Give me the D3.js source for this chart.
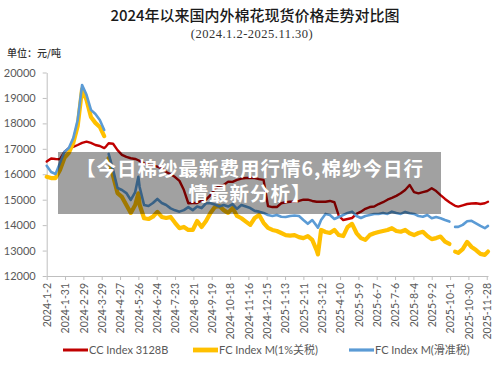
<!DOCTYPE html>
<html>
<head>
<meta charset="utf-8">
<script src="https://cdn.jsdelivr.net/npm/d3@7"></script>
<style>
  body { margin: 0; background: #fff; }
  svg { display: block; }
</style>
</head>
<body>
<div id="chart"></div>
<script>
// sample dates (roughly weekly), values in 元/吨; null = no quote
var dates = ["2024-01-02","2024-01-09","2024-01-16","2024-01-23","2024-01-30","2024-02-06","2024-02-13","2024-02-20","2024-02-27","2024-03-05",
  "2024-03-12","2024-03-19","2024-03-26","2024-04-02","2024-04-05","2024-04-09","2024-04-16","2024-04-23","2024-04-30","2024-05-07",
  "2024-05-14","2024-05-21","2024-05-26","2024-05-28","2024-06-04","2024-06-11","2024-06-18","2024-06-25","2024-07-02","2024-07-09",
  "2024-07-16","2024-07-23","2024-07-30","2024-08-06","2024-08-13","2024-08-20","2024-08-27","2024-09-03","2024-09-10","2024-09-17",
  "2024-09-24","2024-10-01","2024-10-08","2024-10-15","2024-10-22","2024-10-29","2024-11-05","2024-11-12","2024-11-19","2024-11-26",
  "2024-12-03","2024-12-10","2024-12-17","2024-12-24","2024-12-31","2025-01-07","2025-01-14","2025-01-21","2025-01-28","2025-02-04",
  "2025-02-11","2025-02-18","2025-02-25","2025-03-04","2025-03-06","2025-03-11","2025-03-18","2025-03-25","2025-04-01","2025-04-08",
  "2025-04-15","2025-04-22","2025-04-29","2025-05-06","2025-05-13","2025-05-20","2025-05-27","2025-06-03","2025-06-10","2025-06-17",
  "2025-06-24","2025-07-01","2025-07-08","2025-07-15","2025-07-22","2025-07-29","2025-08-05","2025-08-12","2025-08-19","2025-08-26",
  "2025-09-02","2025-09-09","2025-09-16","2025-09-23","2025-09-30","2025-10-05","2025-10-09","2025-10-14","2025-10-21","2025-10-28",
  "2025-11-04","2025-11-11","2025-11-18","2025-11-25","2025-11-30"];

var ccIndex = [16500,16620,16600,16590,16880,17030,17080,17150,17230,17280,
  17230,17150,17110,17030,17100,17220,17200,16950,16760,16680,
  16630,16600,16550,16520,16430,16380,16340,16300,16230,16090,
  16000,15890,15740,15380,14860,14870,14870,14970,15000,15180,
  15420,15540,15580,15710,15700,15780,15830,15850,15850,15850,
  15810,15780,14750,14710,14710,14860,14900,14920,14920,14950,
  15000,15000,14950,14920,14920,14920,14920,14950,14900,14360,
  14200,14240,14280,14440,14530,14640,14710,14730,14830,14900,
  15000,15070,15150,15250,15380,15580,15300,15250,15300,15340,
  15450,15340,15180,15030,14900,14820,14760,14730,14780,14830,
  14850,14860,14830,14860,14920];

var fcTariff = [15900,15850,15850,16170,16640,16840,17230,17900,19350,18920,
  18250,18020,17860,17500,null,16640,15930,15260,15110,14790,
  14480,14790,15250,14800,14270,14240,14330,14520,14320,14280,
  14320,14090,13880,13930,13810,13810,14160,13930,14160,14480,
  14710,14750,14590,14480,14670,14360,14270,14140,14010,14280,
  14400,14090,13890,13810,13770,13690,13610,13590,13610,13530,
  13490,13570,13420,13010,12850,13810,13730,13690,13810,13610,
  13570,13930,14050,13690,13490,13420,13610,13680,13730,13770,
  13810,13880,13770,13740,13810,13680,13610,13690,13740,13570,
  13450,13490,13550,13350,13260,null,12960,12910,13060,13340,
  13140,13020,12870,12830,12960];

var fcSlide = [16330,16090,16010,16440,16880,17030,17420,18130,19510,19120,
  18530,18370,18130,17740,null,16800,16170,15460,15380,15260,
  14990,15300,15900,15500,14790,14750,14870,15030,14870,14790,
  14660,14580,14530,14590,14710,14590,14730,14670,14860,14860,
  14810,14730,14790,14730,14830,14640,14790,14730,14670,14560,
  14530,14480,14400,14360,14400,14330,14320,14360,14380,14360,
  14200,14050,14200,13970,13900,14200,14440,14400,14240,14320,
  14400,14480,14530,14360,14280,14360,14400,14440,14440,14480,
  14440,14530,14480,14440,14520,14470,14440,14360,14330,14400,
  14270,14320,14270,14200,14140,null,13930,13930,14010,14150,
  14170,14070,13970,13880,13970];

var xTicks = ["2024-01-02","2024-01-31","2024-02-29","2024-03-29","2024-04-27","2024-05-26","2024-06-24","2024-07-23","2024-08-21",
  "2024-09-19","2024-10-18","2024-11-16","2024-12-15","2025-01-13","2025-02-11","2025-03-12","2025-04-10","2025-05-09",
  "2025-06-07","2025-07-06","2025-08-04","2025-09-02","2025-10-01","2025-10-30","2025-11-28"];
var yTicks = [12000,13000,14000,15000,16000,17000,18000,19000,20000];

var seriesNames = ["CC Index 3128B", "FC Index M(1%关税)", "FC Index M(滑准税)"];
var seriesColors = ["#c00000", "#ffc000", "#5b9bd5"];
var seriesWidths = [2.4, 4.2, 2.6];

var W = 500, H = 367;
var parse = d3.timeParse("%Y-%m-%d");
var fmt = d3.timeFormat("%Y-%-m-%-d");
var axisFont = "Lato, 'Noto Sans', 'Noto Sans CJK SC', sans-serif";

var svg = d3.select("#chart").append("svg").attr("width", W).attr("height", H);
svg.append("rect").attr("width", W).attr("height", H).attr("fill", "#fff");

var x = d3.scaleTime().domain([parse("2024-01-02"), parse("2025-11-30")]).range([46.7, 488]);
var y = d3.scaleLinear().domain([12000, 20000]).range([276, 72.5]);

// titles
svg.append("text").attr("x", 255).attr("y", 21).attr("text-anchor", "middle")
  .attr("font-family", "'Noto Sans CJK SC', sans-serif").attr("font-size", 15).attr("font-weight", 500)
  .attr("fill", "#1a1a1a").text("2024年以来国内外棉花现货价格走势对比图");
svg.append("text").attr("x", 252).attr("y", 37.5).attr("text-anchor", "middle")
  .attr("font-family", "'Liberation Serif', serif").attr("font-size", 12.5).attr("letter-spacing", 0.5)
  .attr("fill", "#333").text("(2024.1.2-2025.11.30)");
svg.append("text").attr("x", 7).attr("y", 56.5)
  .attr("font-family", "'Noto Sans CJK SC', sans-serif").attr("font-size", 10).attr("font-weight", 500)
  .attr("fill", "#333").text("单位：元/吨");

// axes
var yAxis = svg.append("g").attr("transform", "translate(46.7,0)")
  .call(d3.axisLeft(y).tickValues(yTicks).tickSize(4).tickSizeOuter(0).tickPadding(7).tickFormat(d3.format("d")));
var xAxis = svg.append("g").attr("transform", "translate(0,276)")
  .call(d3.axisBottom(x).tickValues(xTicks.map(parse)).tickSize(4).tickSizeOuter(0).tickFormat(fmt));

[yAxis, xAxis].forEach(function(g){
  g.select(".domain").attr("stroke", "#bfbfbf").attr("stroke-width", 1);
  g.selectAll(".tick line").attr("stroke", "#bfbfbf");
  g.selectAll("text").attr("font-family", axisFont).attr("fill", "#595959");
});
yAxis.selectAll("text").attr("font-size", 11);
xAxis.selectAll("text").attr("font-size", 10.5)
  .attr("transform", "rotate(-90)")
  .attr("text-anchor", "end")
  .attr("x", -7).attr("y", 0).attr("dy", "0.35em");

// lines
var pts = dates.map(parse);
var allSeries = [ccIndex, fcTariff, fcSlide];
var line = d3.line()
  .defined(function(d){ return d[1] != null; })
  .x(function(d){ return x(d[0]); })
  .y(function(d){ return y(d[1]); })
  .curve(d3.curveLinear);

allSeries.forEach(function(vals, i){
  svg.append("path")
    .datum(pts.map(function(p, j){ return [p, vals[j]]; }))
    .attr("fill", "none")
    .attr("stroke", seriesColors[i])
    .attr("stroke-width", seriesWidths[i])
    .attr("stroke-linejoin", "round")
    .attr("stroke-linecap", "round")
    .attr("d", line);
});

// legend
var legX = [63, 193, 349];
var leg = svg.selectAll(".leg").data(seriesNames).enter().append("g")
  .attr("class", "leg")
  .attr("transform", function(d, i){ return "translate(" + legX[i] + ",350)"; });
leg.append("line").attr("x1", 0).attr("x2", 25).attr("y1", 0).attr("y2", 0)
  .attr("stroke", function(d, i){ return seriesColors[i]; })
  .attr("stroke-width", function(d, i){ return seriesWidths[i] + 0.6; });
leg.append("text").attr("x", 26).attr("y", 0).attr("dy", "0.35em")
  .attr("font-family", axisFont).attr("font-size", 11).attr("fill", "#595959")
  .text(function(d){ return d; });

// watermark banner over the chart (one text, two lines)
svg.append("rect").attr("x", 58).attr("y", 152).attr("width", 383).attr("height", 62)
  .attr("fill", "#000").attr("fill-opacity", 0.37);
var banner = ["【今日棉纱最新费用行情6,棉纱今日行", "情最新分析】"];
var bannerText = svg.append("text")
  .attr("text-anchor", "middle")
  .attr("font-family", "'Noto Sans CJK SC', sans-serif")
  .attr("font-size", 19.5).attr("font-weight", "bold").attr("letter-spacing", 1)
  .attr("fill", "#fff");
bannerText.selectAll("tspan").data(banner).enter().append("tspan")
  .attr("x", 250)
  .attr("y", function(d, i){ return 176 + i * 25; })
  .text(function(d){ return d; });
</script>
</body>
</html>
